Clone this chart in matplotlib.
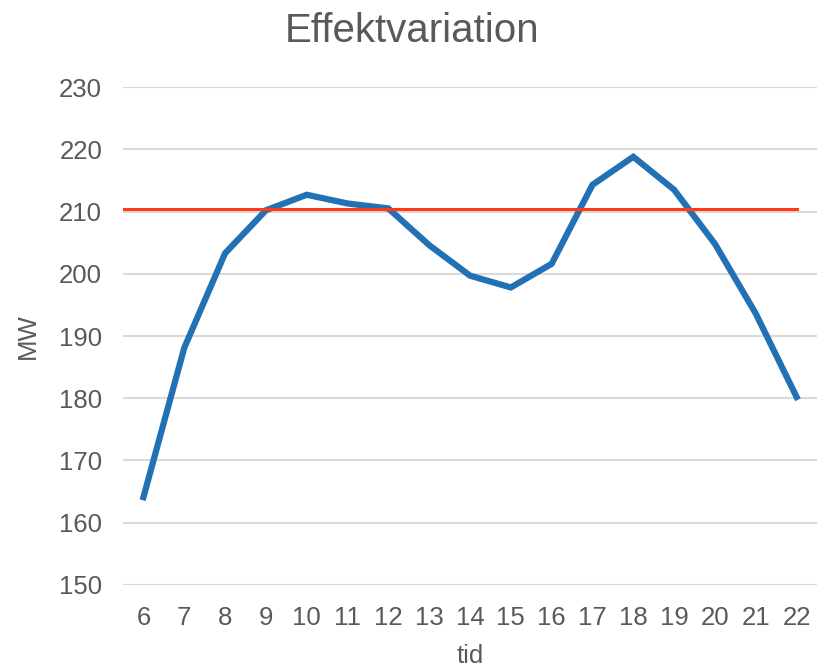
import numpy as np
import matplotlib.pyplot as plt

plt.rcParams['font.family'] = ['Liberation Sans', 'DejaVu Sans']

# data
hours = [6, 7, 8, 9, 10, 11, 12, 13, 14, 15, 16, 17, 18, 19, 20, 21, 22]
power = [164.1, 188.1, 203.3, 210.2, 212.7, 211.3, 210.5, 204.6, 199.7, 197.8,
         201.6, 214.3, 218.8, 213.5, 204.8, 193.6, 180.2]
average = 210.4

grey = '#595959'
x = np.arange(len(hours))

fig = plt.figure(figsize=(8.17, 6.7), dpi=100)
ax = fig.add_axes([0.1506, 0.127, 0.8494, 0.743])

for y in range(150, 231, 10):
    ax.axhline(y, color='#d9d9d9', linewidth=1.5, zorder=1)

ax.plot([-0.5, x[-1]], [average, average], color='#ff3a14', linewidth=2.2, zorder=3)
ax.plot(x, power, color='#2271b5', linewidth=4.5, solid_joinstyle='miter', zorder=2)

ax.set_xlim(-0.5, len(hours) - 0.5)
ax.set_ylim(150, 230)
ax.set_yticks(range(150, 231, 10))
ax.set_xticks(x)
ax.set_xticklabels([str(h) for h in hours])
ax.tick_params(length=0, labelsize=18.5, labelcolor=grey, pad=15)
for s in ax.spines.values():
    s.set_visible(False)

# title centred on the figure, not the axes
fig.text(0.504, 0.953, 'Effektvariation', fontsize=29, color=grey,
         ha='center', va='center')
ax.set_xlabel('tid', fontsize=18.5, color=grey, labelpad=10)
ax.set_ylabel('MW', fontsize=18.5, color=grey, labelpad=14)

plt.savefig('out.png', dpi=100)
plt.close()
